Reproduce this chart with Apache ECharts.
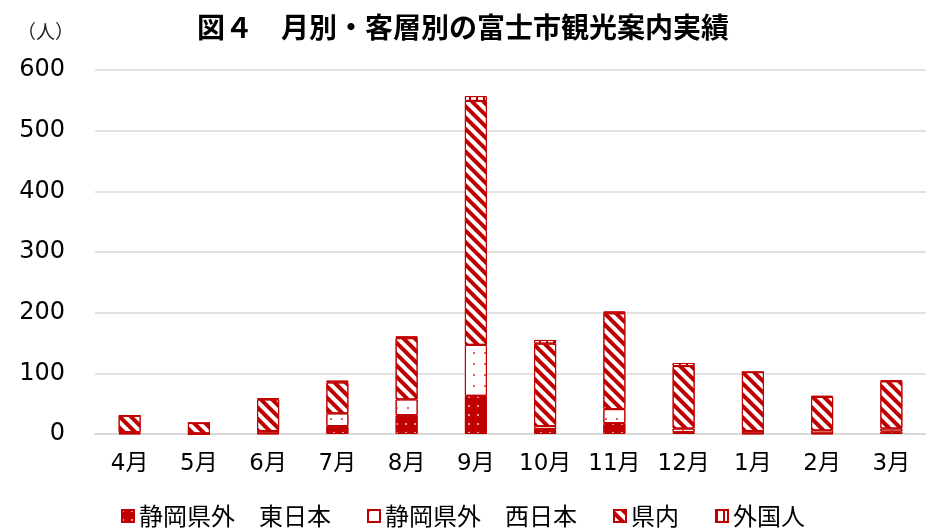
<!DOCTYPE html>
<html>
<head>
<meta charset="utf-8">
<script src="https://cdn.jsdelivr.net/npm/echarts@6/dist/echarts.min.js"></script>
<style>
  html, body { margin: 0; padding: 0; background: #fff; }
  #chart { width: 926px; height: 531px; }
</style>
</head>
<body>
<div id="chart"></div>
<script>
const months = ['4月', '5月', '6月', '7月', '8月', '9月', '10月', '11月', '12月', '1月', '2月', '3月'];
const eastOutside = [1, 0, 1, 13, 31, 63, 8, 18, 3, 1, 1, 4];     // 静岡県外 東日本
const westOutside = [2, 1, 4, 21, 26, 84, 5, 23, 6, 4, 5, 5];     // 静岡県外 西日本
const inPref = [27, 17, 52, 51, 101, 402, 136, 158, 103, 97, 55, 78]; // 県内
const foreign = [1, 0, 2, 3, 3, 8, 6, 3, 5, 0, 2, 1];           // 外国人
const yTicks = { min: 0, max: 600, interval: 100 };

const RED = '#C00000';
const FONT = '"Noto Sans CJK JP", "Noto Sans", sans-serif';
const NUM_FONT = '"DejaVu Sans", "Noto Sans CJK JP", sans-serif';

const chart = echarts.init(document.getElementById('chart'));

function barSeries(name, data, itemStyle) {
    return {
        name: name,
        type: 'bar',
        stack: 'total',
        barWidth: 22,
        data: data,
        itemStyle: Object.assign({ borderColor: RED, borderWidth: 1 }, itemStyle),
        emphasis: { disabled: true }
    };
}

chart.setOption({
    animation: false,
    textStyle: { fontFamily: FONT },
    title: [
        {
            text: '図４　月別・客層別の富士市観光案内実績',
            left: 'center',
            top: 8,
            textStyle: { fontFamily: FONT, fontSize: 28, fontWeight: 'bold', color: '#000' }
        },
        {
            text: '（人）',
            left: 12,
            top: 17,
            textStyle: { fontFamily: FONT, fontSize: 19, fontWeight: 'normal', color: '#222' }
        }
    ],
    legend: {
        bottom: -2,
        left: 'center',
        itemWidth: 12,
        itemHeight: 12,
        itemGap: 36,
        icon: 'rect',
        textStyle: { fontFamily: FONT, fontSize: 24, color: '#000' },
        data: ['静岡県外　東日本', '静岡県外　西日本', '県内', '外国人']
    },
    grid: { left: 95, right: -11, top: 70, bottom: 97 },
    xAxis: {
        type: 'category',
        data: months,
        axisTick: { show: false },
        axisLine: { lineStyle: { color: '#d9d9d9', width: 2 } },
        axisLabel: { fontFamily: NUM_FONT, fontSize: 23, color: '#000', margin: 19 }
    },
    yAxis: {
        type: 'value',
        min: yTicks.min,
        max: yTicks.max,
        interval: yTicks.interval,
        axisLabel: { fontFamily: NUM_FONT, fontSize: 24, color: '#000', margin: 30 },
        splitLine: { lineStyle: { color: '#d9d9d9', width: 1.5 } }
    },
    series: [
        barSeries('静岡県外　東日本', eastOutside, {
            color: RED,
            decal: { symbol: 'rect', symbolSize: 1, color: '#f4a0a0', dashArrayX: [2, 7], dashArrayY: [2, 7] }
        }),
        barSeries('静岡県外　西日本', westOutside, {
            color: '#fff',
            decal: { symbol: 'rect', symbolSize: 1, color: '#e06060', dashArrayX: [2, 9], dashArrayY: [2, 9] }
        }),
        barSeries('県内', inPref, {
            color: '#fff',
            decal: { symbol: 'rect', symbolSize: 1, color: RED, dashArrayX: [1, 0], dashArrayY: [3.5, 3.5], rotation: Math.PI / 4 }
        }),
        barSeries('外国人', foreign, {
            color: '#fff',
            decal: { symbol: 'rect', symbolSize: 1, color: RED, dashArrayX: [1.5, 5], dashArrayY: [1, 0] }
        })
    ]
});
</script>
</body>
</html>
